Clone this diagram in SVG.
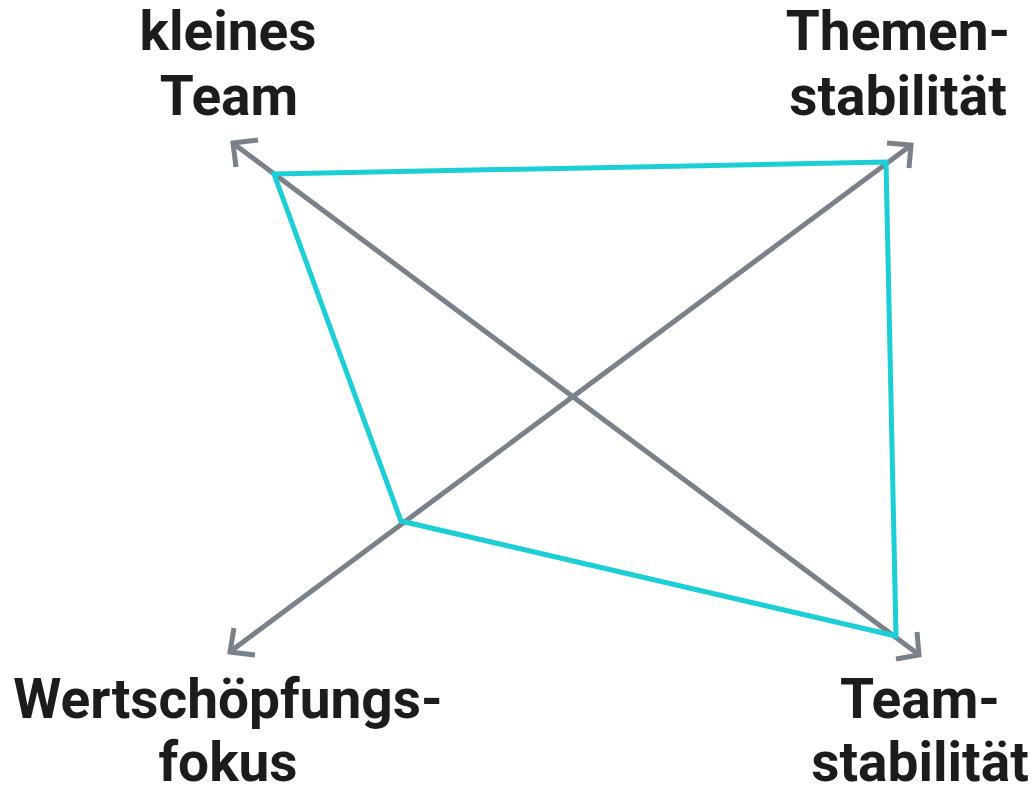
<svg xmlns="http://www.w3.org/2000/svg" width="1036" height="788" viewBox="0 0 1036 788">
<defs>
<style>
.lbl{font-family:Roboto,"Liberation Sans",sans-serif;font-weight:700;font-size:55px;fill:#1c1c1c;text-anchor:middle}
.axis{stroke:#7b8189;stroke-width:5;fill:none;stroke-linecap:butt}
.head{stroke:#7b8189;stroke-width:5;fill:none;stroke-linejoin:miter}
.poly{stroke:#1ccfd6;stroke-width:5;fill:none;stroke-linejoin:miter}
</style>
</defs>
<rect width="1036" height="788" fill="#ffffff"/>
<g id="connectors">
<line class="axis" x1="234" y1="144" x2="918" y2="654"/>
<line class="axis" x1="910" y1="146" x2="231" y2="651"/>
<polyline class="head" points="258,140 233,143 236,167"/>
<polyline class="head" points="887,143 911,145 909,168"/>
<polyline class="head" points="234,628 230,652 255,655"/>
<polyline class="head" points="917,632 919,655 896,659"/>
<polygon class="poly" points="274,174 886,162 896,636 401,521"/>
</g>
<g id="node-kleines-team">
<text class="lbl" x="228" y="50">kleines</text>
<text class="lbl" x="229" y="115">Team</text>
</g>
<g id="node-themenstabilitaet">
<text class="lbl" x="898" y="50">Themen-</text>
<text class="lbl" x="898" y="115">stabilität</text>
</g>
<g id="node-wertschoepfungsfokus">
<text class="lbl" x="228" y="718">Wertschöpfungs-</text>
<text class="lbl" x="228" y="781">fokus</text>
</g>
<g id="node-teamstabilitaet">
<text class="lbl" x="920" y="718">Team-</text>
<text class="lbl" x="920" y="781">stabilität</text>
</g>
</svg>
